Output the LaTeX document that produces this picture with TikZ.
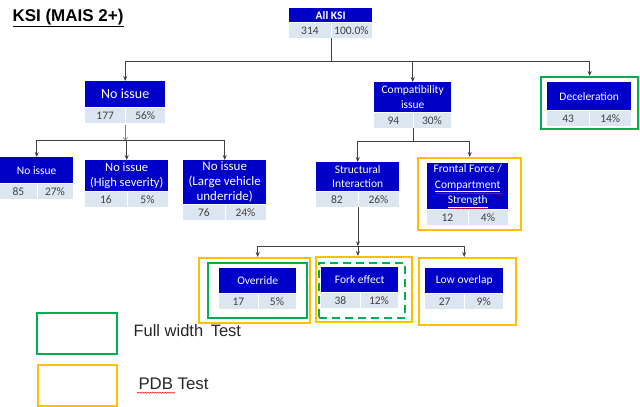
\documentclass[tikz,border=0pt]{standalone}
\usepackage{fontspec}
\setmainfont{Carlito}
\newfontfamily\arialfont{Liberation Sans}
\usetikzlibrary{arrows.meta,decorations.pathmorphing}
\definecolor{ksiblue}{RGB}{0,0,200}
\definecolor{cellgray}{RGB}{220,230,241}
\definecolor{fwgreen}{RGB}{0,176,80}
\definecolor{pdbgold}{RGB}{255,192,0}
\definecolor{connline}{RGB}{64,64,64}
\tikzset{
    ksihead/.style={fill=ksiblue,text=white,align=center,anchor=north west,inner sep=1pt,
        font=\fontsize{11.5}{15}\selectfont},
    ksicell/.style={fill=cellgray,text=black!75,inner sep=0pt,minimum height=15.5pt,
        font=\fontsize{11.5}{13.5}\selectfont},
    fwframe/.style={draw=fwgreen,line width=2.4pt,anchor=north west,inner sep=0pt},
    pdbframe/.style={draw=pdbgold,line width=2.4pt,anchor=north west,inner sep=0pt},
    conn/.style={draw=connline,line width=0.8pt},
    connarrow/.style={conn,-{Stealth[length=5pt,width=4pt]}},
    openarrow/.style={draw=gray,line width=0.7pt,-{To[length=3pt,width=5pt]}},
    spellmark/.style={draw=red,line width=0.5pt,decorate,
        decoration={snake,amplitude=0.6pt,segment length=2.5pt}}
}
% [header style] name, left, top, width, header height, header text, count, share
\newcommand{\ksibox}[9][]{%
    \node[ksihead,minimum width=#5pt,minimum height=#6pt,#1] (#2) at (#3,#4) {#7};
    \node[ksicell,minimum width=#5pt/2,anchor=north west] (#2a) at (#2.south west) {#8};
    \node[ksicell,minimum width=#5pt/2,anchor=north east] (#2b) at (#2.south east) {#9};
    \draw[white,line width=0.8pt] (#2a.north east) -- (#2a.south east);
}
\begin{document}
\begin{tikzpicture}[x=1pt,y=-1pt]
    \useasboundingbox (0,0) rectangle (640,407);
    \node[anchor=west,font=\arialfont\bfseries\fontsize{17}{20}\selectfont] (title) at (9,18) {\underline{KSI (MAIS 2+)}};

    % frames for the tests
    \node[fwframe,minimum width=97pt,minimum height=52pt] (decelfw) at (540,76) {};
    \node[pdbframe,minimum width=103pt,minimum height=72pt] (frontalpdb) at (417,157) {};
    \node[pdbframe,minimum width=111pt,minimum height=65pt] (overridepdb) at (198,257) {};
    \node[fwframe,minimum width=99pt,minimum height=55pt] (overridefw) at (207,262) {};
    \node[pdbframe,minimum width=96pt,minimum height=65pt] (forkpdb) at (315,256) {};
    \node[fwframe,dash pattern=on 8pt off 5pt,minimum width=86pt,minimum height=55pt] (forkfw) at (318,262) {};
    \node[pdbframe,minimum width=97pt,minimum height=67pt] (lowpdb) at (418,257) {};

    % boxes
    \ksibox[font=\bfseries\fontsize{11.5}{15}\selectfont]{allksi}{289}{8}{83}{14}{All KSI}{314}{100.0\%}
    \ksibox[font=\fontsize{14}{15}\selectfont]{noissue}{85}{81}{80}{26}{No issue}{177}{56\%}
    \ksibox{noleaf}{0}{157}{73}{26}{No issue}{85}{27\%}
    \ksibox[font=\fontsize{12.5}{15}\selectfont]{noissuehigh}{85}{160}{83}{31}{No issue\\(High severity)}{16}{5\%}
    \ksibox[font=\fontsize{13}{15}\selectfont]{noissuelarge}{183}{160}{83}{44}{No issue\\(Large vehicle\\underride)}{76}{24\%}
    \ksibox{compat}{374}{82}{77}{30}{Compatibility\\issue}{94}{30\%}
    \ksibox{decel}{547}{82}{84}{28}{Deceleration}{43}{14\%}
    \ksibox[font=\fontsize{11.5}{14}\selectfont]{structural}{316}{162}{83}{29}{Structural\\Interaction}{82}{26\%}
    \ksibox[font=\fontsize{11.5}{15.5}\selectfont]{frontal}{427}{163}{81}{46}{Frontal Force /\\\underline{Compartment}\\\underline{Strength}}{12}{4\%}
    \ksibox{override}{219}{268}{77}{25}{Override}{17}{5\%}
    \ksibox{fork}{321}{267}{77}{25}{Fork effect}{38}{12\%}
    \ksibox{low}{425}{268}{78}{25}{Low overlap}{27}{9\%}
    \draw[spellmark] (436,193.5) -- (502,193.5);
    \draw[spellmark] (449,208.5) -- (488,208.5);

    % connectors
    \draw[conn] (allksia.south east) -- ++(0,23) coordinate (split1);
    \draw[connarrow] (split1) -| (noissue.north);
    \draw[connarrow] (split1) -| (compat.north);
    \draw[connarrow] (split1) -| (decelfw.north);

    \draw[openarrow] (noissuea.south east) ++(0,2) -- ++(0,15) coordinate (split2);
    \draw[connarrow] (split2) -| (noleaf.north);
    \draw[connarrow] (split2) -| (noissuehigh.north);
    \draw[connarrow] (split2) -| (noissuelarge.north);

    \draw[conn] (compata.south east) -- ++(0,13) coordinate (split3);
    \draw[connarrow] (split3) -| (structural.north);
    \draw[connarrow] (split3) -| (frontalpdb.north);

    \draw[connarrow] (structurala.south east) -- ++(0,39) coordinate (split4);
    \draw[connarrow] (split4) -| (overridefw.north |- overridepdb.north);
    \draw[connarrow] (split4) -- (split4 |- forkpdb.north);
    \draw[connarrow] (split4) -| (low.north |- lowpdb.north);

    % key
    \node[fwframe,minimum width=80pt,minimum height=41pt] (fwkey) at (36,312) {};
    \node[anchor=west,font=\arialfont\fontsize{16.5}{18}\selectfont,text=black!85] (fwkeytext) at (130,331) {Full width\hspace{3pt} Test};
    \node[pdbframe,minimum width=79pt,minimum height=41pt] (pdbkey) at (37,364) {};
    \node[anchor=west,font=\arialfont\fontsize{16.8}{18}\selectfont,text=black!85] (pdbkeytext) at (135,384) {PDB Test};
    \draw[spellmark] ([xshift=2pt,yshift=-3pt]pdbkeytext.base west) -- ++(38,0);
\end{tikzpicture}
\end{document}
